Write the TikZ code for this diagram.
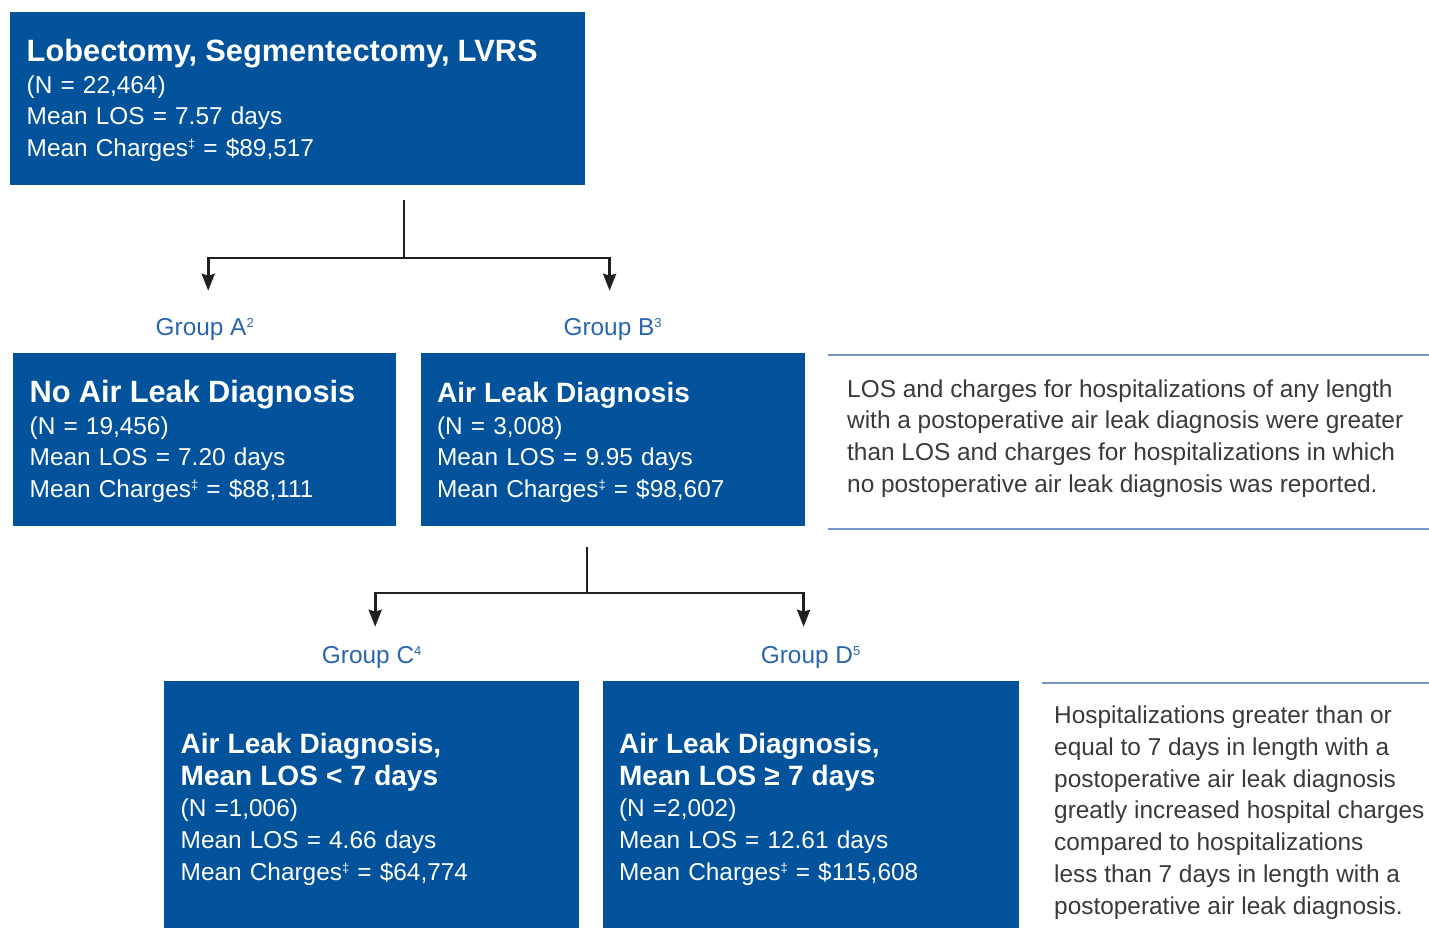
\documentclass[tikz,border=0pt]{standalone}
\usepackage{fontspec}
\setmainfont{Liberation Sans}
\usetikzlibrary{arrows.meta,positioning}

\definecolor{boxblue}{HTML}{02529C}
\definecolor{groupblue}{HTML}{2A66AE}
\definecolor{ruleblue}{HTML}{7498CB}
\definecolor{notegray}{HTML}{3A3A3A}
\definecolor{linkgray}{HTML}{231F20}

\newcommand{\boxhead}[2][28]{{\bfseries\fontsize{#1}{31.7}\selectfont\rule{0pt}{25.5pt}#2}}
\newcommand{\supmark}[1]{\raisebox{8pt}{\fontsize{13}{13}\selectfont #1}}

\begin{document}
\begin{tikzpicture}[x=1pt,y=-1pt,>={Stealth[length=17pt,width=13pt,inset=2pt]},
  every node/.style={font=\fontsize{24.4}{31.7}\selectfont},
  databox/.style={fill=boxblue,text=white,align=left,inner xsep=16.5pt,inner ysep=0pt},
  grouplabel/.style={text=groupblue,inner sep=0pt},
  note/.style={text=notegray,align=left,inner sep=0pt,anchor=north west},
  link/.style={draw=linkgray,line width=2.7pt},
  rule/.style={draw=ruleblue,line width=1.4pt}]

\useasboundingbox (0,0) rectangle (1429,928);
\fill[white] (0,0) rectangle (1429,928);

% boxes
\node[databox,anchor=north west,text width=542pt,minimum height=173pt] (top) at (10,12)
  {\boxhead[30.8]{Lobectomy, Segmentectomy, LVRS}\\(N = 22,464)\\Mean LOS = 7.57 days\\Mean Charges\supmark{‡} = \$89,517};
\node[databox,anchor=north west,text width=350pt,minimum height=173pt] (noleak) at (13,353)
  {\boxhead[30.8]{No Air Leak Diagnosis}\\(N = 19,456)\\Mean LOS = 7.20 days\\Mean Charges\supmark{‡} = \$88,111};
\node[databox,text width=351pt,minimum height=173pt,right=24pt of noleak] (leak)
  {\boxhead{Air Leak Diagnosis}\\(N = 3,008)\\Mean LOS = 9.95 days\\Mean Charges\supmark{‡} = \$98,607};
\node[databox,anchor=north west,text width=382pt,minimum height=251pt] (short) at (164,681)
  {\boxhead{Air Leak Diagnosis,\\Mean LOS < 7 days}\\(N =1,006)\\Mean LOS = 4.66 days\\Mean Charges\supmark{‡} = \$64,774};
\node[databox,text width=383pt,minimum height=251pt,right=23pt of short] (long)
  {\boxhead{Air Leak Diagnosis,\\Mean LOS ≥ 7 days}\\(N =2,002)\\Mean LOS = 12.61 days\\Mean Charges\supmark{‡} = \$115,608};

% group labels
\node[grouplabel,above=12pt of noleak] (grpA) {Group A\supmark{2}};
\node[grouplabel,above=12pt of leak] (grpB) {Group B\supmark{3}};
\node[grouplabel,above=12pt of short] (grpC) {Group C\supmark{4}};
\node[grouplabel,above=12pt of long] (grpD) {Group D\supmark{5}};

% connectors
\coordinate (splitab) at (404,258);
\draw[link] (top.south -| splitab) ++(0,15) -- (splitab);
\draw[link,->] (splitab) -| ([xshift=3.5pt,yshift=45pt]grpA.base);
\draw[link,->] (splitab) -| ([xshift=-3pt,yshift=45pt]grpB.base);

\coordinate (splitcd) at (587,593);
\draw[link] (leak.south -| splitcd) ++(0,21) -- (splitcd);
\draw[link,->] (splitcd) -| ([xshift=3.5pt,yshift=37pt]grpC.base);
\draw[link,->] (splitcd) -| ([xshift=-7pt,yshift=37pt]grpD.base);

% notes
\draw[rule] (828,355) -- (1429,355);
\draw[rule] (828,529) -- (1429,529);
\node[note] (noteab) at (847,379.3)
  {LOS and charges for hospitalizations of any length\\with a postoperative air leak diagnosis were greater\\than LOS and charges for hospitalizations in which\\no postoperative air leak diagnosis was reported.};

\draw[rule] (1042,683) -- (1429,683);
\node[note] (notecd) at (1054,706)
  {Hospitalizations greater than or\\equal to 7 days in length with a\\postoperative air leak diagnosis\\greatly increased hospital charges\\compared to hospitalizations\\less than 7 days in length with a\\postoperative air leak diagnosis.};
\end{tikzpicture}
\end{document}
